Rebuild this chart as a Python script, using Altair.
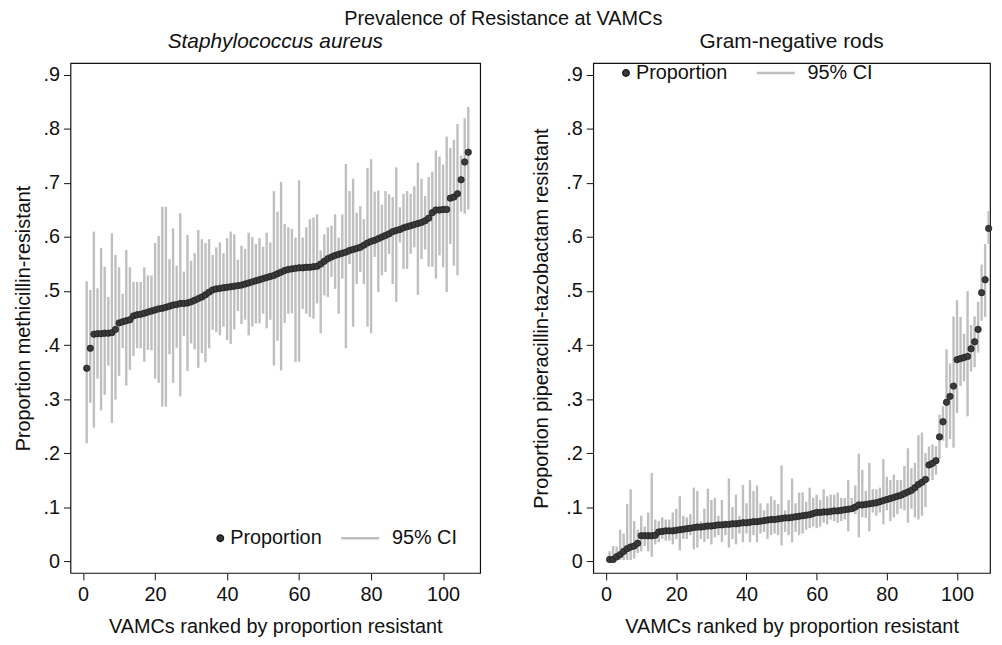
import altair as alt
import pandas as pd

TITLE = "Prevalence of Resistance at VAMCs"
LEFT_SUB = "Staphylococcus aureus"
RIGHT_SUB = "Gram-negative rods"
X_TITLE = "VAMCs ranked by proportion resistant"
LEFT_Y = "Proportion methicillin-resistant"
RIGHT_Y = "Proportion piperacillin-tazobactam resistant"
LBL_P = "Proportion"
LBL_CI = "95% CI"

x_ticks = [0, 20, 40, 60, 80, 100]
y_ticks = [0, 0.1, 0.2, 0.3, 0.4, 0.5, 0.6, 0.7, 0.8, 0.9]

# Staphylococcus aureus: proportion methicillin-resistant, ranked
sa_p = [0.357, 0.394, 0.420, 0.421, 0.421, 0.422, 0.422, 0.423, 0.429, 0.441,
        0.443, 0.445, 0.447, 0.454, 0.456, 0.457, 0.459, 0.461, 0.463, 0.465,
        0.467, 0.468, 0.470, 0.472, 0.474, 0.475, 0.477, 0.477, 0.478, 0.480,
        0.483, 0.486, 0.489, 0.493, 0.498, 0.502, 0.504, 0.505, 0.506, 0.507,
        0.508, 0.509, 0.510, 0.511, 0.513, 0.515, 0.517, 0.519, 0.521, 0.523,
        0.525, 0.527, 0.529, 0.532, 0.535, 0.538, 0.540, 0.541, 0.542, 0.543,
        0.543, 0.544, 0.544, 0.545, 0.546, 0.550, 0.555, 0.560, 0.563, 0.566,
        0.568, 0.570, 0.572, 0.575, 0.577, 0.579, 0.581, 0.585, 0.589, 0.592,
        0.594, 0.597, 0.600, 0.603, 0.606, 0.610, 0.612, 0.614, 0.617, 0.619,
        0.621, 0.623, 0.625, 0.627, 0.630, 0.635, 0.645, 0.650, 0.650, 0.651,
        0.651, 0.672, 0.674, 0.680, 0.706, 0.739, 0.757]
sa_hi = [0.518, 0.502, 0.610, 0.505, 0.580, 0.545, 0.489, 0.607, 0.567, 0.544,
         0.495, 0.576, 0.544, 0.517, 0.517, 0.517, 0.544, 0.529, 0.529, 0.589,
         0.602, 0.656, 0.656, 0.559, 0.616, 0.547, 0.644, 0.536, 0.604, 0.556,
         0.570, 0.613, 0.596, 0.589, 0.596, 0.567, 0.581, 0.590, 0.570, 0.598,
         0.610, 0.605, 0.558, 0.584, 0.578, 0.608, 0.600, 0.587, 0.598, 0.582,
         0.608, 0.590, 0.685, 0.647, 0.702, 0.624, 0.618, 0.615, 0.599, 0.705,
         0.599, 0.618, 0.633, 0.636, 0.642, 0.575, 0.605, 0.618, 0.621, 0.642,
         0.599, 0.642, 0.735, 0.685, 0.708, 0.645, 0.657, 0.633, 0.728, 0.744,
         0.684, 0.686, 0.660, 0.685, 0.679, 0.674, 0.729, 0.655, 0.680, 0.685,
         0.680, 0.694, 0.738, 0.708, 0.676, 0.711, 0.721, 0.760, 0.749, 0.734,
         0.786, 0.765, 0.780, 0.809, 0.751, 0.820, 0.841]
sa_lo = [0.218, 0.293, 0.247, 0.338, 0.279, 0.308, 0.362, 0.256, 0.299, 0.343,
         0.394, 0.325, 0.354, 0.380, 0.394, 0.394, 0.369, 0.391, 0.390, 0.338,
         0.330, 0.286, 0.286, 0.383, 0.330, 0.395, 0.305, 0.417, 0.352, 0.403,
         0.392, 0.358, 0.385, 0.368, 0.394, 0.428, 0.424, 0.418, 0.434, 0.409,
         0.402, 0.429, 0.463, 0.439, 0.447, 0.418, 0.434, 0.440, 0.440, 0.458,
         0.431, 0.447, 0.362, 0.408, 0.353, 0.441, 0.458, 0.459, 0.369, 0.369,
         0.467, 0.458, 0.452, 0.449, 0.477, 0.422, 0.492, 0.489, 0.526, 0.504,
         0.458, 0.523, 0.394, 0.550, 0.434, 0.513, 0.535, 0.513, 0.434, 0.422,
         0.563, 0.498, 0.529, 0.535, 0.569, 0.513, 0.480, 0.590, 0.541, 0.541,
         0.569, 0.581, 0.493, 0.559, 0.577, 0.545, 0.545, 0.523, 0.566, 0.544,
         0.498, 0.587, 0.547, 0.529, 0.647, 0.643, 0.651]

# Gram-negative rods: proportion piperacillin-tazobactam resistant, ranked
gn_p = [0.003, 0.003, 0.008, 0.012, 0.018, 0.023, 0.026, 0.028, 0.033, 0.047,
        0.047, 0.047, 0.047, 0.048, 0.054, 0.055, 0.056, 0.056, 0.056, 0.057,
        0.058, 0.059, 0.060, 0.061, 0.062, 0.063, 0.063, 0.064, 0.065, 0.065,
        0.066, 0.067, 0.067, 0.068, 0.068, 0.069, 0.069, 0.070, 0.071, 0.071,
        0.072, 0.073, 0.073, 0.074, 0.075, 0.076, 0.077, 0.077, 0.078, 0.079,
        0.080, 0.080, 0.081, 0.082, 0.083, 0.084, 0.085, 0.086, 0.088, 0.090,
        0.090, 0.091, 0.091, 0.092, 0.093, 0.093, 0.094, 0.095, 0.096, 0.097,
        0.100, 0.104, 0.104, 0.105, 0.106, 0.107, 0.108, 0.110, 0.112, 0.114,
        0.116, 0.118, 0.120, 0.122, 0.125, 0.128, 0.131, 0.136, 0.142, 0.146,
        0.151, 0.178, 0.181, 0.186, 0.230, 0.258, 0.294, 0.305, 0.324, 0.373,
        0.375, 0.377, 0.379, 0.393, 0.406, 0.429, 0.497, 0.521, 0.616]
gn_hi = [0.018, 0.028, 0.027, 0.058, 0.051, 0.106, 0.133, 0.074, 0.058, 0.084,
         0.064, 0.090, 0.163, 0.077, 0.074, 0.081, 0.077, 0.077, 0.090, 0.097,
         0.120, 0.084, 0.081, 0.087, 0.136, 0.130, 0.074, 0.097, 0.134, 0.113,
         0.117, 0.084, 0.113, 0.074, 0.153, 0.100, 0.123, 0.084, 0.141, 0.107,
         0.150, 0.130, 0.140, 0.107, 0.094, 0.107, 0.120, 0.113, 0.106, 0.177,
         0.094, 0.113, 0.153, 0.107, 0.127, 0.127, 0.110, 0.136, 0.117, 0.123,
         0.113, 0.133, 0.120, 0.123, 0.123, 0.127, 0.117, 0.117, 0.150, 0.117,
         0.140, 0.199, 0.169, 0.130, 0.182, 0.133, 0.133, 0.136, 0.189, 0.156,
         0.150, 0.160, 0.150, 0.150, 0.176, 0.209, 0.172, 0.182, 0.233, 0.238,
         0.200, 0.212, 0.216, 0.213, 0.271, 0.287, 0.392, 0.366, 0.453, 0.483,
         0.452, 0.421, 0.500, 0.437, 0.453, 0.480, 0.549, 0.587, 0.648]
gn_lo = [0.000, 0.000, 0.000, 0.002, 0.002, 0.002, 0.002, 0.005, 0.015, 0.018,
         0.028, 0.018, 0.008, 0.031, 0.035, 0.041, 0.038, 0.038, 0.031, 0.041,
         0.020, 0.041, 0.041, 0.048, 0.022, 0.025, 0.041, 0.035, 0.041, 0.031,
         0.044, 0.048, 0.035, 0.048, 0.025, 0.041, 0.031, 0.051, 0.035, 0.051,
         0.035, 0.048, 0.035, 0.051, 0.054, 0.041, 0.048, 0.051, 0.048, 0.029,
         0.054, 0.048, 0.035, 0.054, 0.048, 0.051, 0.058, 0.061, 0.064, 0.061,
         0.064, 0.071, 0.068, 0.077, 0.074, 0.071, 0.074, 0.077, 0.055, 0.094,
         0.087, 0.044, 0.081, 0.080, 0.055, 0.090, 0.084, 0.090, 0.068, 0.094,
         0.074, 0.081, 0.087, 0.097, 0.094, 0.071, 0.097, 0.081, 0.077, 0.084,
         0.100, 0.148, 0.150, 0.160, 0.189, 0.223, 0.210, 0.226, 0.210, 0.274,
         0.324, 0.333, 0.268, 0.351, 0.359, 0.386, 0.445, 0.452, 0.587]

FONT = "Liberation Sans"
DOT = "#3a3a3a"
BAR = "#bfbfbf"
# a wide horizontal line symbol that keeps a small layout box
LINE_SYMBOL = "M-3.2,0H3.2"


def make_df(p, lo, hi):
    return pd.DataFrame({
        "rank": list(range(1, len(p) + 1)),
        "p": p, "lo": lo, "hi": hi,
        "pl": [LBL_P] * len(p), "cl": [LBL_CI] * len(p),
    })


ylab = "datum.value == 0 ? '0' : replace(format(datum.value, '.1f'), '0.', '.')"


def panel(df, sub, ytitle, xdom, width, italic, lx, ly, cx, ytp):
    yscale = alt.Scale(domain=[-0.022, 0.922], nice=False, zero=False)
    xscale = alt.Scale(domain=xdom, nice=False, zero=False)
    xaxis = alt.Axis(values=x_ticks, title=X_TITLE, format="d")
    yaxis = alt.Axis(values=y_ticks, title=ytitle, labelExpr=ylab, titlePadding=ytp)
    rules = alt.Chart(df).mark_rule(strokeWidth=2.4).encode(
        x=alt.X("rank:Q", scale=xscale, axis=xaxis),
        y=alt.Y("lo:Q", scale=yscale, axis=yaxis),
        y2="hi:Q",
        stroke=alt.Stroke("cl:N", scale=alt.Scale(domain=[LBL_CI], range=[BAR]),
                          legend=alt.Legend(title=None, orient="none", legendX=cx, legendY=ly,
                                            direction="horizontal", symbolType=LINE_SYMBOL,
                                            symbolSize=144, symbolStrokeWidth=2.6,
                                            labelFontSize=20, labelFont=FONT, labelColor="#111",
                                            labelOffset=22, padding=0)),
    )
    points = alt.Chart(df).mark_point(filled=True, size=42, stroke="#1a1a1a",
                                      strokeWidth=0.7, opacity=1).encode(
        x=alt.X("rank:Q", scale=xscale, axis=xaxis),
        y=alt.Y("p:Q", scale=yscale, axis=yaxis),
        fill=alt.Fill("pl:N", scale=alt.Scale(domain=[LBL_P], range=[DOT]),
                      legend=alt.Legend(title=None, orient="none", legendX=lx, legendY=ly,
                                        direction="horizontal", symbolType="circle",
                                        symbolSize=42, labelFontSize=20, labelFont=FONT,
                                        labelColor="#111", labelOffset=0, padding=0)),
    )
    return alt.layer(rules, points).properties(
        width=width, height=514,
        title=alt.TitleParams(sub, fontSize=21, font=FONT, fontWeight="normal",
                              fontStyle="italic" if italic else "normal",
                              color="#111", offset=11),
    ).resolve_scale(fill="independent", stroke="independent")


left = panel(make_df(sa_p, sa_lo, sa_hi), LEFT_SUB, LEFT_Y, [-3.5, 110.3], 413, True,
             141, 469, 282, 10)
right = panel(make_df(gn_p, gn_lo, gn_hi), RIGHT_SUB, RIGHT_Y, [-3.66, 109.4], 400, False,
              23, 0, 174, 14)

chart = alt.hconcat(left, right, spacing=50).resolve_scale(
    x="independent", fill="independent", stroke="independent"
).resolve_legend(fill="independent", stroke="independent").properties(
    title=alt.TitleParams(TITLE, fontSize=20, font=FONT, fontWeight="normal",
                          color="#111", anchor="middle", offset=2),
    padding={"left": 4, "top": -2, "right": 0, "bottom": 0},
).configure_view(
    stroke="#111", strokeWidth=1.2
).configure_axis(
    grid=False, domain=False, tickColor="#111", tickWidth=1, tickSize=7,
    labelFont=FONT, labelFontSize=20, labelColor="#111", labelPadding=4,
    titleFont=FONT, titleFontSize=20, titleFontWeight="normal", titleColor="#111",
).configure_axisX(titlePadding=12, labelPadding=5)

chart.save("out.html", embed_options={"renderer": "svg", "actions": False})
